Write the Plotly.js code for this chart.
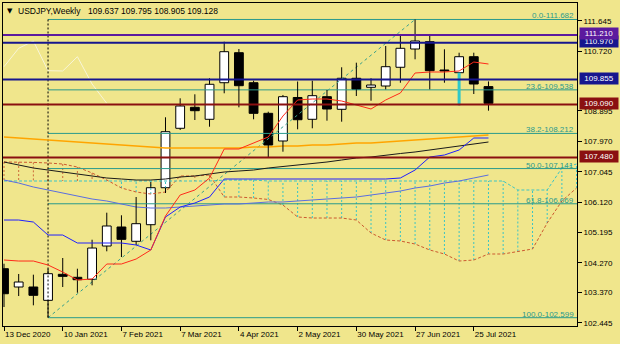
<!DOCTYPE html>
<html><head><meta charset="utf-8">
<script src="https://cdn.plot.ly/plotly-3.0.1.min.js"></script>
<style>html,body{margin:0;padding:0;background:#f0e68c;}#chart{width:620px;height:344px;}</style>
</head><body><div id="chart"></div>
<script>
// ---- data (weekly bars, index 0 = week of 13 Dec 2020) ----
const symbolTitle = 'USDJPY,Weekly';
const tickBars = [0, 4, 8, 12, 16, 20, 24, 28, 32];
const tickLabels = ['13 Dec 2020','10 Jan 2021','7 Feb 2021','7 Mar 2021','4 Apr 2021','2 May 2021','30 May 2021','27 Jun 2021','25 Jul 2021'];
const opens  = [104.091,103.534,103.534,103.128,103.920,103.829,103.768,104.782,105.361,104.926,105.431,106.558,108.368,109.007,108.642,109.756,110.670,109.756,108.824,107.981,109.306,108.642,109.330,108.946,109.891,109.616,109.656,110.226,110.783,111.005,110.143,110.061,110.548,109.637];
const highs  = [104.243,103.930,103.909,104.091,104.417,104.091,104.974,105.797,105.718,106.275,106.732,108.703,109.281,109.403,109.891,111.005,110.783,109.817,108.873,109.382,109.793,109.817,109.534,110.226,110.366,109.891,110.874,111.179,111.682,111.240,110.774,110.670,110.670,109.795];
const lows   = [102.924,103.259,102.976,102.599,103.534,103.360,103.585,104.621,104.447,104.813,104.956,106.397,108.316,108.620,108.416,109.434,109.007,108.642,107.480,107.655,108.337,108.368,108.599,108.569,109.351,109.208,109.555,109.756,110.469,109.555,109.756,109.070,109.412,108.905];
const closes = [103.329,103.686,103.281,103.939,103.859,103.756,104.721,105.392,104.986,105.462,106.558,108.264,109.047,108.904,109.708,110.701,109.665,108.824,107.859,109.330,108.629,109.361,108.955,109.891,109.555,109.686,110.244,110.804,111.027,110.122,110.113,110.548,109.717,109.128];
const tenkan = [104.356,104.325,104.325,104.204,103.990,103.747,103.777,104.234,104.234,104.386,104.661,105.696,106.336,106.488,106.854,107.737,107.737,107.920,108.103,108.742,109.230,109.260,109.260,109.199,109.077,108.955,109.230,109.443,110.052,110.082,110.082,110.113,110.387,110.326];
const kijun  = [105.574,105.574,105.513,105.117,105.117,104.874,104.874,104.874,104.874,104.813,104.661,105.666,105.970,106.092,106.275,106.823,106.823,106.823,106.823,106.823,106.823,106.823,106.823,106.823,106.823,106.823,106.823,106.854,107.097,107.493,107.554,107.707,108.072,108.072];
const maBlue   = [106.793,106.701,106.580,106.488,106.397,106.305,106.214,106.153,106.062,105.970,105.940,105.940,105.970,106.000,106.031,106.062,106.062,106.092,106.123,106.123,106.153,106.184,106.214,106.244,106.275,106.336,106.397,106.458,106.549,106.610,106.701,106.762,106.854,106.945];
const maOrange = [108.103,108.072,108.042,108.011,107.981,107.950,107.920,107.889,107.859,107.828,107.798,107.767,107.767,107.767,107.767,107.767,107.767,107.798,107.798,107.828,107.828,107.859,107.859,107.889,107.920,107.920,107.950,107.981,108.011,108.042,108.072,108.103,108.133,108.163];
const maBlack  = [107.341,107.250,107.158,107.097,107.036,106.976,106.915,106.854,106.823,106.793,106.793,106.823,106.884,106.915,106.976,107.036,107.067,107.097,107.158,107.204,107.250,107.280,107.341,107.402,107.463,107.493,107.554,107.600,107.646,107.707,107.767,107.828,107.889,107.950];
// Ichimoku cloud, 40 bars (6 ahead of the last candle)
const spanA = [107.341,107.341,107.330,107.311,107.280,107.189,107.006,106.793,106.549,106.427,106.366,106.427,106.915,106.915,106.945,106.275,106.275,106.244,106.200,106.031,105.666,105.635,105.635,105.635,105.574,105.178,104.965,104.935,104.843,104.661,104.539,104.325,104.356,104.539,104.539,104.615,104.691,105.483,106.153,106.549];
const spanB = [106.762,106.762,106.762,106.762,106.762,106.762,106.762,106.762,106.762,106.762,106.762,106.762,106.762,106.762,106.762,106.790,106.790,106.790,106.762,106.762,106.762,106.762,106.762,106.762,106.762,106.762,106.762,106.762,106.762,106.762,106.762,106.762,106.762,106.762,106.762,106.488,106.488,106.488,107.158,107.280];
const fibLevels = ['0.0','23.6','38.2','50.0','61.8','100.0'];
const fibPrices = [111.682,109.538,108.212,107.141,106.069,102.599];
const fibLowBar = 3, fibHighBar = 28;
const levelPrices = [110.970,111.210,109.855,109.090,107.480];
const levelColors = ['#16168e','#5c1a9e','#16168e','#8a1010','#8a1010'];
const yTicks = [102.445,103.370,104.270,105.195,106.120,107.045,107.970,108.895,110.720,111.645];
const shadowBar = 31;

// ---- build traces ----
const n = opens.length;
const idx = opens.map((_, i) => i);
const traces = [];

// cloud hatch
const hb = {x: [], y: []}, hc = {x: [], y: []};
spanA.forEach((a, i) => {
  const t = a > spanB[i] ? hb : hc;
  t.x.push(i, i, null); t.y.push(a, spanB[i], null);
});
traces.push({type:'scatter', mode:'lines', x: hb.x, y: hb.y, line:{color:'#cc6a3a', width:1, dash:'2px,2px'}, hoverinfo:'skip'});
traces.push({type:'scatter', mode:'lines', x: hc.x, y: hc.y, line:{color:'#3cc4c4', width:1, dash:'2px,2px'}, hoverinfo:'skip'});
const cloudX = spanA.map((_, i) => i);
traces.push({type:'scatter', mode:'lines', x: cloudX, y: spanA, line:{color:'#cc5a30', width:1, dash:'3px,2px'}, hoverinfo:'skip'});
traces.push({type:'scatter', mode:'lines', x: cloudX, y: spanB, line:{color:'#3cc4c4', width:1, dash:'3px,2px'}, hoverinfo:'skip'});

// chikou span (close shifted 26 bars back)
const chX = [], chY = [];
for (let i = 26; i < n; i++) { chX.push(i - 26); chY.push(closes[i]); }
traces.push({type:'scatter', mode:'lines', x: chX, y: chY, line:{color:'#f8f5d8', width:1}, hoverinfo:'skip'});

// fib lines
const fibX = [], fibY = [];
fibPrices.forEach(p => { fibX.push(fibLowBar, 40, null); fibY.push(p, p, null); });
traces.push({type:'scatter', mode:'lines', x: fibX, y: fibY, line:{color:'#2a9a8c', width:1}, hoverinfo:'skip'});
traces.push({type:'scatter', mode:'lines', x:[fibLowBar, fibHighBar], y:[fibPrices[5], fibPrices[0]], line:{color:'#3aa08a', width:1, dash:'3px,3px'}, hoverinfo:'skip'});
traces.push({type:'scatter', mode:'lines', x:[fibLowBar, fibLowBar], y:[fibPrices[0], fibPrices[5]], line:{color:'#000', width:1, dash:'2px,2px'}, hoverinfo:'skip'});

// moving averages
traces.push({type:'scatter', mode:'lines', x: idx, y: maOrange, line:{color:'#ffa500', width:1.6}, hoverinfo:'skip'});
traces.push({type:'scatter', mode:'lines', x: idx, y: maBlack, line:{color:'#1a1a1a', width:1}, hoverinfo:'skip'});
traces.push({type:'scatter', mode:'lines', x: idx, y: maBlue, line:{color:'#5a6ee0', width:1}, hoverinfo:'skip'});

// candle bodies
traces.push({type:'bar', x: idx, base: opens.map((o, i) => Math.min(o, closes[i])),
  y: opens.map((o, i) => Math.max(Math.abs(closes[i] - o), 0.02)), width: 0.6,
  marker:{color: opens.map((o, i) => closes[i] >= o ? '#ffffff' : '#000000'), line:{color:'#000', width:1}}, hoverinfo:'skip'});
// wicks
const wx = [], wy = [];
idx.forEach(i => {
  const top = Math.max(opens[i], closes[i]), bot = Math.min(opens[i], closes[i]);
  wx.push(i, i, null, i, i, null); wy.push(highs[i], top, null, bot, lows[i], null);
});
traces.push({type:'scatter', mode:'lines', x: wx, y: wy, line:{color:'#000', width:1}, hoverinfo:'skip'});
// highlighted lower shadow
traces.push({type:'scatter', mode:'lines', x:[shadowBar, shadowBar], y:[opens[shadowBar], lows[shadowBar]], line:{color:'#2ec8c8', width:3}, hoverinfo:'skip'});

// ichimoku tenkan / kijun
traces.push({type:'scatter', mode:'lines', x: idx, y: kijun, line:{color:'#2020ff', width:1}, hoverinfo:'skip'});
traces.push({type:'scatter', mode:'lines', x: idx, y: tenkan, line:{color:'#ff2a1a', width:1}, hoverinfo:'skip'});

// horizontal levels
levelPrices.forEach((p, k) => {
  traces.push({type:'scatter', mode:'lines', x:[-1, 40], y:[p, p], line:{color: levelColors[k], width:2}, hoverinfo:'skip'});
});

// ---- annotations ----
const font = 'Liberation Sans, Arial, sans-serif';
const ann = [];
fibPrices.forEach((p, k) => ann.push({xref:'paper', x:1, xanchor:'right', xshift:-2, yref:'y', y:p, yanchor:'bottom', yshift:-2,
  text: fibLevels[k] + '-' + p.toFixed(3), showarrow:false, font:{family:font, size:8, color:'#2a9a8c'}, borderpad:0}));
levelPrices.forEach((p, k) => ann.push({xref:'paper', x:1, xanchor:'left', xshift:2, yref:'y', y:p, yanchor:'middle', yshift:1,
  text: p.toFixed(3), showarrow:false, bgcolor: levelColors[k], width:38, height:11, borderpad:0, font:{family:font, size:8, color:'#ffffff'}}));
ann.push({xref:'paper', yref:'paper', x:0, y:1, xanchor:'left', yanchor:'top', xshift:2, yshift:-2, text:'▼', showarrow:false, font:{family:'DejaVu Sans', size:7, color:'#000'}});
ann.push({xref:'paper', yref:'paper', x:0, y:1, xanchor:'left', yanchor:'top', xshift:13, yshift:-1, text: symbolTitle, showarrow:false, font:{family:font, size:8.5, color:'#000'}});
const L = n - 1;
ann.push({xref:'paper', yref:'paper', x:0, y:1, xanchor:'left', yanchor:'top', xshift:83, yshift:-1,
  text: [opens[L], highs[L], lows[L], closes[L]].map(v => v.toFixed(3)).join(' '), showarrow:false, font:{family:font, size:8.5, color:'#000'}});

const layout = {
  width: 620, height: 344,
  margin: {l:3, r:43, t:3, b:18, pad:0},
  paper_bgcolor:'#f0e68c', plot_bgcolor:'#f0e68c',
  showlegend:false,
  font:{family:font, size:8, color:'#000'},
  xaxis:{range:[-0.068, 39.03], showgrid:false, zeroline:false, showline:true, mirror:true, linecolor:'#000', linewidth:1,
    ticks:'outside', ticklen:4, tickcolor:'#000', tickvals: tickBars, ticktext: tickLabels, ticklabelposition:'outside right',
    tickfont:{family:font, size:8, color:'#000'}, fixedrange:true},
  yaxis:{range:[102.346, 112.184], side:'right', showgrid:false, zeroline:false, showline:true, mirror:true, linecolor:'#000', linewidth:1,
    ticks:'outside', ticklen:4, tickcolor:'#000', tickvals: yTicks, ticktext: yTicks.map(v => v.toFixed(3)),
    tickfont:{family:font, size:8, color:'#000'}, fixedrange:true},
  annotations: ann
};
Plotly.newPlot('chart', traces, layout, {displayModeBar:false, staticPlot:true});
</script></body></html>
